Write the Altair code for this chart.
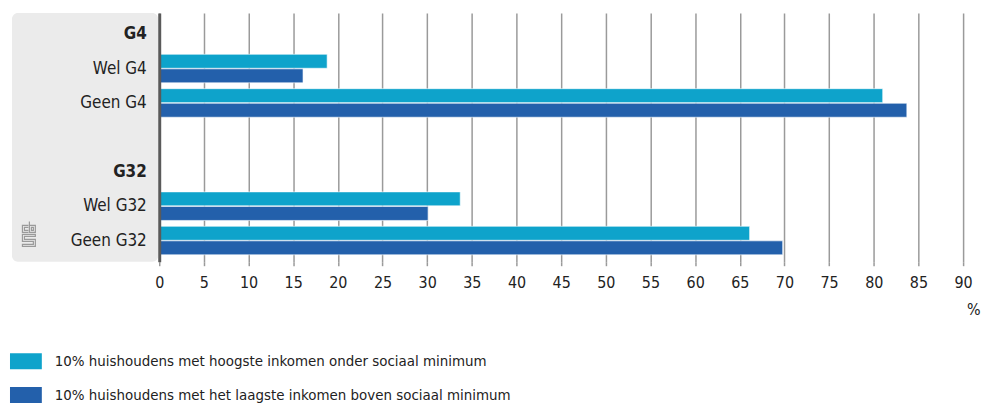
import altair as alt
import pandas as pd

rows = ["G4", "Wel G4", "Geen G4", " ", "G32", "Wel G32", "Geen G32"]
headers = ["G4", "G32"]
series = [
    "10% huishoudens met hoogste inkomen onder sociaal minimum",
    "10% huishoudens met het laagste inkomen boven sociaal minimum",
]
cats = ["Wel G4", "Geen G4", "Wel G32", "Geen G32"]
light_vals = [18.8, 81.0, 33.7, 66.1]
dark_vals = [16.1, 83.7, 30.1, 69.8]
colors = ["#0ea3cb", "#2360ab"]
x_ticks = list(range(0, 95, 5))

records = []
for c, a, b in zip(cats, light_vals, dark_vals):
    records.append({"rij": c, "reeks": series[0], "waarde": a})
    records.append({"rij": c, "reeks": series[1], "waarde": b})
df = pd.DataFrame(records)

FONT = "DejaVu Sans Condensed, Roboto, sans-serif"

panel = alt.Chart(pd.DataFrame({"a": [0]})).mark_rect(
    color="#ebebeb", cornerRadius=6, clip=False
).encode(
    x=alt.value(-148), x2=alt.value(-1), y=alt.value(0), y2=alt.value(250)
)

logo_path = (
    "M-0.04,-0.68H-0.52V-0.12H-0.04 M-0.04,-0.52H-0.36V-0.28H-0.04 "
    "M0.04,-1V-0.12H0.52V-0.68H0.04 M0.2,-0.52H0.36V-0.28H0.2Z "
    "M0.52,0.04H-0.52V0.6H0.36V0.84H-0.52V1H0.52V0.44H-0.36V0.2H0.52Z"
)
logo = alt.Chart(pd.DataFrame({"a": [0]})).mark_point(
    shape=logo_path, size=625, filled=False, stroke="#9a9a9a", strokeWidth=1.2,
    opacity=1, clip=False
).encode(x=alt.value(-131), y=alt.value(222))

label_cond = " || ".join([f"datum.value == '{h}'" for h in headers])

bars = alt.Chart(df).mark_bar(stroke="white", strokeWidth=1, strokeOpacity=0.6).encode(
    x=alt.X(
        "waarde:Q",
        scale=alt.Scale(domain=[0, 90], nice=False),
        axis=alt.Axis(
            values=x_ticks,
            title="%",
            titleFont=FONT,
            titleFontSize=16,
            titleFontWeight="normal",
            titleColor="#222222",
            titleAnchor="end",
            titleAlign="right",
            titleX=825,
            titleY=40,
            labelFont=FONT,
            labelFontSize=16,
            labelColor="#222222",
            labelPadding=9,
            labelFlush=False,
            domain=False,
            grid=True,
            gridColor="#9a9a9a",
            gridWidth=1.5,
            ticks=True,
            tickSize=4,
            tickColor="#9a9a9a",
            tickWidth=1.5,
            zindex=0,
        ),
    ),
    y=alt.Y(
        "rij:N",
        scale=alt.Scale(domain=rows, paddingInner=0.17),
        sort=rows,
        axis=alt.Axis(
            title=None,
            labelFont=FONT,
            labelFontSize=17,
            labelColor="#222222",
            labelFontWeight={"condition": {"test": label_cond, "value": "bold"}, "value": "normal"},
            labelPadding=13,
            ticks=False,
            domain=True,
            domainColor="#5a5a5a",
            domainWidth=3,
            grid=False,
            zindex=1,
        ),
    ),
    yOffset=alt.YOffset("reeks:N", sort=series, scale=alt.Scale(paddingInner=0.04)),
    color=alt.Color(
        "reeks:N",
        sort=series,
        scale=alt.Scale(domain=series, range=colors),
        legend=alt.Legend(
            title=None,
            orient="none",
            legendX=-150,
            legendY=334,
            symbolType="M-1,-0.5H1V0.5H-1Z",
            symbolSize=1024,
            symbolStrokeWidth=0,
            symbolOpacity=1,
            labelFont=FONT,
            labelFontSize=15,
            labelColor="#222222",
            labelOffset=13,
            rowPadding=10,
            labelLimit=700,
        ),
    ),
)

chart = alt.layer(panel, logo, bars).properties(
    width=808,
    height=250,
    autosize=alt.AutoSizeParams(type="none"),
    padding={"left": 152, "top": 4, "right": 20, "bottom": 144},
).configure_view(stroke=None)

chart.save("out.html", embed_options={"renderer": "svg", "actions": False})
